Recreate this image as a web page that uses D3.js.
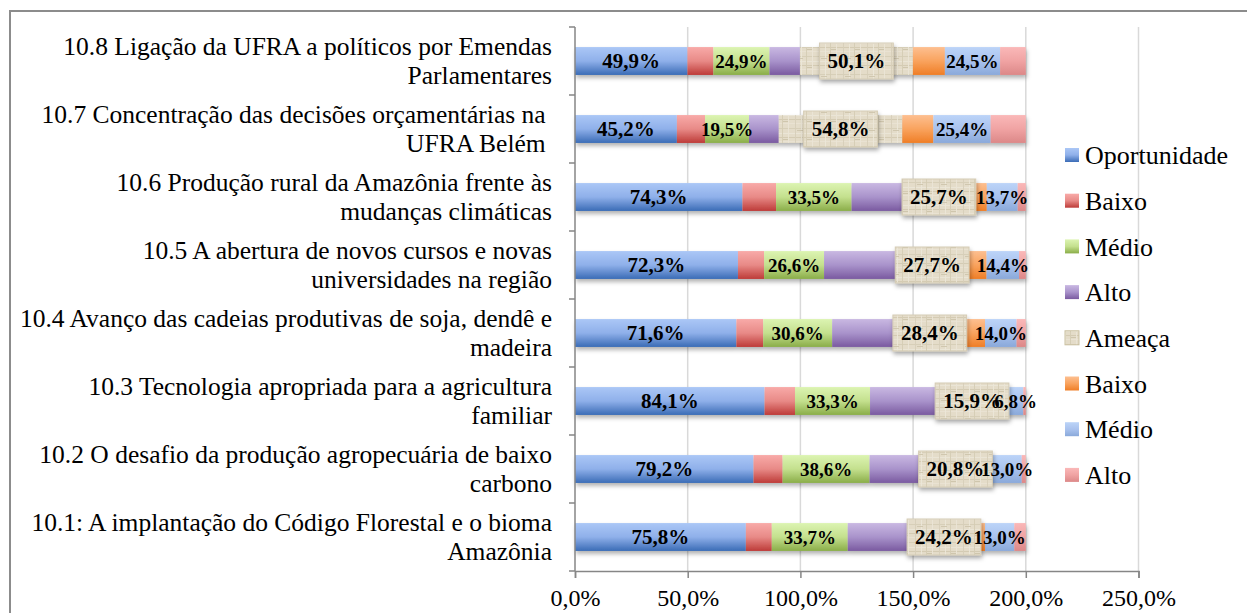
<!DOCTYPE html>
<html>
<head>
<meta charset="utf-8">
<script src="https://cdn.jsdelivr.net/npm/d3@7"></script>
<style>
  html, body { margin: 0; padding: 0; background: #fff; }
  svg { display: block; }
</style>
</head>
<body>
<svg id="chart" width="1247" height="613"></svg>
<script>
// ---------- DATA ----------
const categories = [
  "10.1: A implantação do Código Florestal e o bioma\nAmazônia",
  "10.2 O desafio da produção agropecuária de baixo\ncarbono",
  "10.3 Tecnologia apropriada para a agricultura\nfamiliar",
  "10.4 Avanço das cadeias produtivas de soja, dendê e\nmadeira",
  "10.5 A abertura de novos cursos e novas\nuniversidades na região",
  "10.6 Produção rural da Amazônia frente às\nmudanças climáticas",
  "10.7 Concentração das decisões orçamentárias na \nUFRA Belém ",
  "10.8 Ligação da UFRA a políticos por Emendas\nParlamentares"
];
const seriesNames = ["Oportunidade", "Baixo", "Médio", "Alto", "Ameaça", "Baixo", "Médio", "Alto"];
const oportunidade = [75.8, 79.2, 84.1, 71.6, 72.3, 74.3, 45.2, 49.9];
const oporBaixo    = [11.5, 12.9, 13.5, 11.9, 11.6, 14.9, 12.5, 11.5];
const oporMedio    = [33.7, 38.6, 33.3, 30.6, 26.6, 33.5, 19.5, 24.9];
const oporAlto     = [30.6, 27.7, 37.3, 29.1, 34.1, 25.9, 13.2, 13.5];
const ameaca       = [24.2, 20.8, 15.9, 28.4, 27.7, 25.7, 54.8, 50.1];
const ameBaixo     = [6.1, 6.0, 8.0, 10.3, 10.3, 8.4, 13.8, 14.2];
const ameMedio     = [13.0, 13.0, 6.8, 14.0, 14.4, 13.7, 25.4, 24.5];
const ameAlto      = [5.1, 1.8, 1.1, 4.1, 3.0, 3.6, 15.6, 11.4];
const xTicks = [0, 50, 100, 150, 200, 250];
const labelledSeries = [0, 2, 4, 6];

const seriesValues = [oportunidade, oporBaixo, oporMedio, oporAlto, ameaca, ameBaixo, ameMedio, ameAlto];

// ---------- STYLE ----------
const FONT = "'Liberation Serif'";
const gradColors = [
  ["#abc7f6", "#8fb0ea", "#3b6cb6"],
  ["#f8aaa8", "#e88a87", "#bd3b38"],
  ["#dcf4b2", "#c4e08e", "#8aad48"],
  ["#c9b8e2", "#a993cb", "#7a5aa0"],
  null,
  ["#fdbf90", "#f9a35e", "#ef7e26"],
  ["#bcd4f8", "#a9c2ee", "#8aa9da"],
  ["#fab8b8", "#f0a3a3", "#dc8888"]
];

const svg = d3.select("#chart");
const defs = svg.append("defs");

gradColors.forEach((c, i) => {
  if (!c) return;
  const g = defs.append("linearGradient").attr("id", "g" + i)
    .attr("x1", 0).attr("y1", 0).attr("x2", 0).attr("y2", 1);
  g.append("stop").attr("offset", "0%").attr("stop-color", c[0]);
  g.append("stop").attr("offset", "50%").attr("stop-color", c[1]);
  g.append("stop").attr("offset", "100%").attr("stop-color", c[2]);
});

// parchment texture
const pat = defs.append("pattern").attr("id", "tex")
  .attr("patternUnits", "userSpaceOnUse").attr("width", 24).attr("height", 18);
pat.append("rect").attr("width", 24).attr("height", 18).attr("fill", "#e4dcc9");
[[0,2,24,1,"#d6cdb6"],[0,7,24,1,"#ece6d7"],[0,11,24,1,"#d3c9b1"],[0,15,24,1,"#eae3d3"],
 [3,0,1,18,"#d8cfb9"],[9,0,1,18,"#ede7d9"],[14,0,1,18,"#d5ccb4"],[20,0,1,18,"#ebe5d6"],
 [5,4,6,1,"#cfc5ac"],[15,13,5,1,"#cdc3aa"]].forEach(r => {
  pat.append("rect").attr("x", r[0]).attr("y", r[1]).attr("width", r[2]).attr("height", r[3])
    .attr("fill", r[4]).attr("opacity", 0.9);
});

const shadow = defs.append("filter").attr("id", "sh")
  .attr("x", "-10%").attr("y", "-30%").attr("width", "130%").attr("height", "190%");
shadow.append("feDropShadow").attr("dx", 1).attr("dy", 3).attr("stdDeviation", 2)
  .attr("flood-color", "#000").attr("flood-opacity", 0.3);

const fillFor = i => i === 4 ? "url(#tex)" : "url(#g" + i + ")";

// ---------- SCALES ----------
const x = d3.scaleLinear().domain([0, 250]).range([575, 1138.5]);
const y = d3.scaleBand().domain(d3.range(categories.length).reverse())
  .range([27, 571]).paddingInner(0.59).paddingOuter(0.295);

// outer border
svg.append("rect").attr("x", 10).attr("y", 11).attr("width", 1260).attr("height", 640)
  .attr("fill", "none").attr("stroke", "#8c8c8c").attr("stroke-width", 2);

// gridlines
svg.append("g").selectAll("line").data(xTicks.slice(1)).join("line")
  .attr("x1", d => x(d)).attr("x2", d => x(d)).attr("y1", 27).attr("y2", 571)
  .attr("stroke", "#d9d9d9").attr("stroke-width", 1.5);

// ---------- STACK ----------
const rows = categories.map((c, r) => {
  const o = { idx: r };
  seriesValues.forEach((s, i) => o["s" + i] = s[r]);
  return o;
});
const stack = d3.stack().keys(seriesValues.map((s, i) => "s" + i));
const layers = stack(rows);

const barsG = svg.append("g").attr("filter", "url(#sh)");
layers.forEach((layer, i) => {
  barsG.append("g").selectAll("rect").data(layer).join("rect")
    .attr("x", d => x(d[0]))
    .attr("y", d => y(d.data.idx))
    .attr("width", d => x(d[1]) - x(d[0]))
    .attr("height", y.bandwidth())
    .attr("fill", fillFor(i));
});

// axes
const xAxis = d3.axisBottom(x).tickValues(xTicks).tickSize(7)
  .tickFormat(d => d3.format(".1f")(d).replace(".", ",") + "%");
const gx = svg.append("g").attr("transform", "translate(0,571)").call(xAxis);
gx.attr("font-family", null);
gx.select(".domain").attr("stroke", "#868686").attr("stroke-width", 1.5);
gx.selectAll(".tick line").attr("stroke", "#868686").attr("stroke-width", 1.5);
gx.selectAll(".tick text").attr("font-size", 24).attr("dy", "1.05em")
  .style("font-family", FONT).attr("fill", "#000");

// y axis line + boundary ticks
svg.append("line").attr("x1", 575).attr("x2", 575).attr("y1", 27).attr("y2", 571)
  .attr("stroke", "#868686").attr("stroke-width", 1.5);
svg.append("g").selectAll("line").data(d3.range(categories.length + 1)).join("line")
  .attr("x1", 569).attr("x2", 575)
  .attr("y1", d => 27 + d * y.step()).attr("y2", d => 27 + d * y.step())
  .attr("stroke", "#868686").attr("stroke-width", 1.5);

// category labels
const catG = svg.append("g");
categories.forEach((c, r) => {
  const lines = c.split("\n");
  const cy = y(r) + y.bandwidth() / 2;
  lines.forEach((ln, k) => {
    catG.append("text").attr("text-anchor", "end").attr("font-size", 25.5)
      .style("font-family", FONT).style("white-space", "pre").attr("fill", "#000")
      .attr("x", 552)
      .attr("y", cy + (k - (lines.length - 1) / 2) * 29)
      .attr("dy", "0.35em").text(ln);
  });
});

// data labels
const fmt = v => d3.format(".1f")(v).replace(".", ",") + "%";
const labG = svg.append("g");
labelledSeries.forEach(i => {
  const big = (i === 0 || i === 4);
  layers[i].forEach(d => {
    const cx = (x(d[0]) + x(d[1])) / 2;
    const cy = y(d.data.idx) + y.bandwidth() / 2;
    const g = labG.append("g");
    const t = g.append("text").attr("x", cx).attr("y", cy).attr("dy", "0.35em")
      .attr("text-anchor", "middle").attr("font-weight", "bold")
      .style("font-family", FONT).attr("fill", "#000")
      .attr("font-size", big ? 21 : 19).text(fmt(d[1] - d[0]));
    if (i === 4) {
      const w = t.node().getComputedTextLength() + 16;
      g.insert("rect", "text").attr("x", cx - w / 2).attr("y", cy - 18)
        .attr("width", w).attr("height", 36)
        .attr("fill", "url(#tex)").attr("stroke", "#d5ccb5").attr("stroke-width", 1)
        .attr("filter", "url(#sh)");
    }
  });
});

// legend
const legG = svg.append("g");
seriesNames.forEach((n, i) => {
  const cy = 155 + i * 45.7;
  legG.append("rect").attr("x", 1065).attr("y", cy - 7).attr("width", 14).attr("height", 14)
    .attr("fill", fillFor(i)).attr("stroke", i === 4 ? "#c9bf9f" : "none");
  legG.append("text").attr("x", 1085).attr("y", cy).attr("dy", "0.35em")
    .style("font-family", FONT).attr("fill", "#000")
    .attr("font-size", 26).text(n);
});
</script>
</body>
</html>
